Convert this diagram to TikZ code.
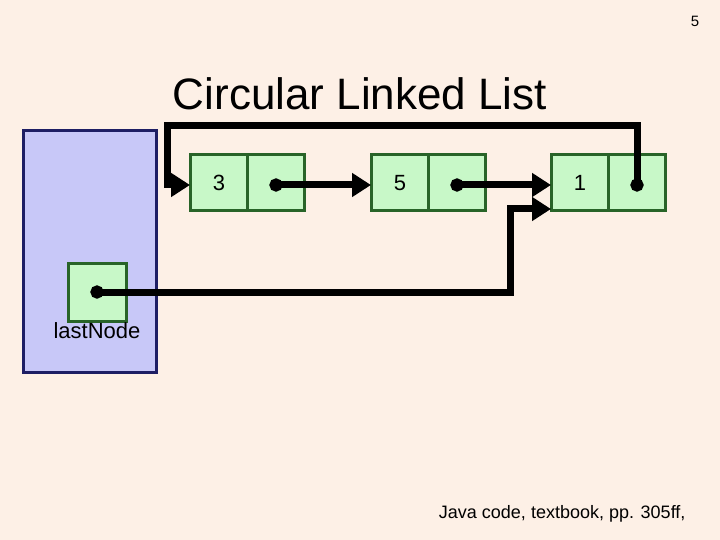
\documentclass[tikz,border=0pt]{standalone}
\usepackage{fontspec}
\setmainfont{Liberation Sans}
\usetikzlibrary{arrows.meta}
\definecolor{bg}{RGB}{253,240,230}
\definecolor{cellfill}{RGB}{200,248,200}
\definecolor{celldraw}{RGB}{40,100,40}
\definecolor{framefill}{RGB}{200,200,248}
\definecolor{framedraw}{RGB}{30,30,100}
\tikzset{
  cell/.style={draw=celldraw, fill=cellfill, line width=3pt, minimum width=57pt, minimum height=56pt, inner sep=0pt, font=\fontsize{22}{26}\selectfont},
  ptr/.style={line width=7pt, line join=miter, shorten <=-6.5pt, shorten >=-1pt, {Circle[length=13pt,width=13pt]}-{Triangle[length=19pt,width=23pt]}},
}
\begin{document}
\begin{tikzpicture}[x=1pt,y=-1pt]
\fill[bg] (0,0) rectangle (720,540);
\useasboundingbox (0,0) rectangle (720,540);
\node[font=\fontsize{15}{18}\selectfont] (pg) at (695,21) {5};
\node[font=\fontsize{44}{52}\selectfont] (title) at (360,94) {Circular Linked List};
\draw[framedraw, fill=framefill, line width=3pt] (23,131) rectangle (156,372);
% list nodes
\node[cell] (n3v) at (219,183) {3};
\node[cell] (n3p) at (276,183) {};
\node[cell] (n5v) at (400,183) {5};
\node[cell] (n5p) at (457,183) {};
\node[cell] (n1v) at (580,183) {1};
\node[cell] (n1p) at (637,183) {};
% lastNode
\node[cell, minimum width=58pt, minimum height=58pt] (last) at (97,292) {};
\node[font=\fontsize{22}{26}\selectfont] (lbl) at (97,331) {lastNode};
% connectors
\draw[ptr] ([yshift=-2pt]n3p.center) -- ([yshift=-2pt]n5v.west);
\draw[ptr] ([yshift=-2pt]n5p.center) -- ([yshift=-2pt]n1v.west);
\coordinate (tl) at (167,126);
\coordinate (bl) at (167,185);
\draw[ptr] ([yshift=-2pt]n1p.center) |- (tl) -- (bl) -- ([yshift=-2pt]n3v.west);
\coordinate (elb) at (510,209);
\coordinate (t1) at ([yshift=-26pt]n1v.west);
\draw[ptr] (last.center) -| (elb) -- (t1);
\node[font=\fontsize{18}{22}\selectfont, anchor=east] (foot) at (689,514) {Java code, textbook, pp. 305ff,};
\end{tikzpicture}
\end{document}
